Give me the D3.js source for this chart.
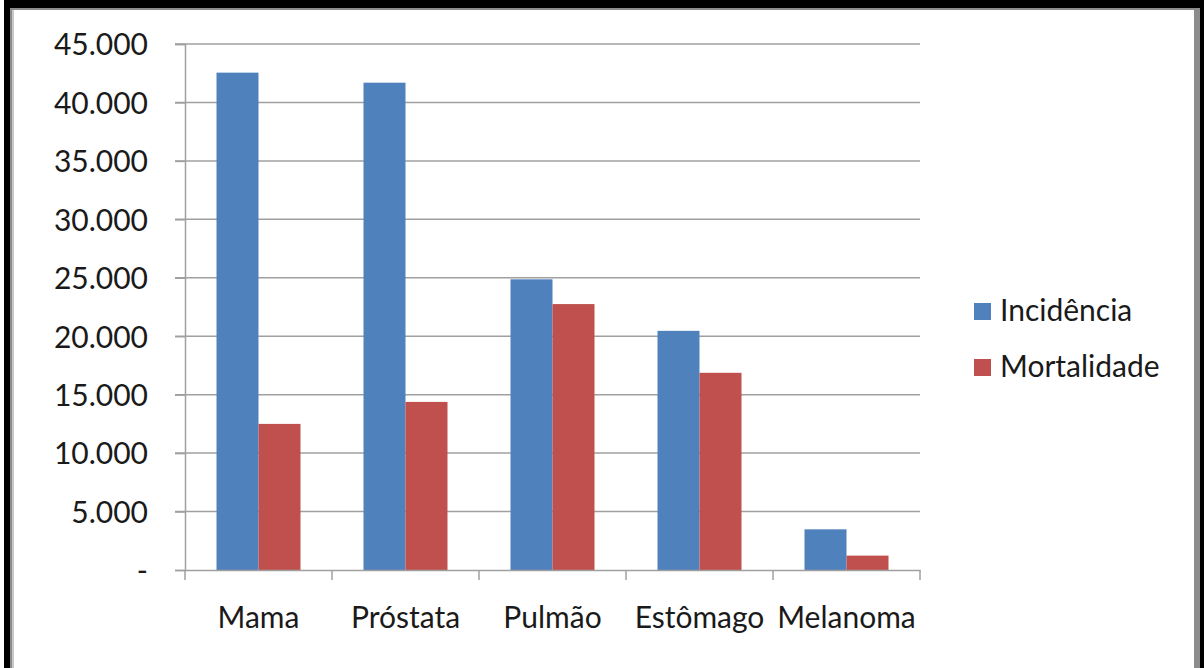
<!DOCTYPE html>
<html>
<head>
<meta charset="utf-8">
<script src="https://cdn.jsdelivr.net/npm/d3@7"></script>
<style>
  html, body { margin: 0; padding: 0; background: #fff; }
  svg { display: block; }
  text { font-family: Lato, "Open Sans", sans-serif; fill: #1a1a1a; }
</style>
</head>
<body>
<script>
// Cancer types and estimated new cases / deaths
const categories = ["Mama", "Próstata", "Pulmão", "Estômago", "Melanoma"];
const incidencia = [42550, 41690, 24870, 20460, 3480];
const mortalidade = [12500, 14380, 22750, 16870, 1230];
const seriesNames = ["Incidência", "Mortalidade"];
const seriesColors = ["#4f81bd", "#c0504d"];
const yTicks = [0, 5000, 10000, 15000, 20000, 25000, 30000, 35000, 40000, 45000];

const W = 1204, H = 668;
const svg = d3.select("body").append("svg").attr("width", W).attr("height", H);

// Frame: black outer band with a grey inner edge
svg.append("rect").attr("x", 4).attr("y", 0).attr("width", W - 4).attr("height", H + 20).attr("fill", "#000");
svg.append("rect").attr("x", 10).attr("y", 8).attr("width", 1190).attr("height", H + 20).attr("fill", "#8c8c8c");
svg.append("rect").attr("x", 12).attr("y", 10).attr("width", 1182).attr("height", H + 20).attr("fill", "#c8c8c8");
svg.append("rect").attr("x", 14).attr("y", 10).attr("width", 1180).attr("height", H + 20).attr("fill", "#fff");

const plot = { left: 185, right: 920, top: 44, bottom: 570 };

const x0 = d3.scaleBand().domain(categories).range([plot.left, plot.right]).paddingInner(0).paddingOuter(0);
const y = d3.scaleLinear().domain([0, 45000]).range([plot.bottom, plot.top]);

// Bars occupy 84 of each 147px category slot, centered
const groupFrac = 84 / 147;
const x1 = d3.scaleBand().domain(seriesNames)
  .range([0, x0.bandwidth() * groupFrac]);
const groupOffset = x0.bandwidth() * (1 - groupFrac) / 2;

// Horizontal gridlines
svg.append("g").selectAll("line").data(yTicks.filter(d => d > 0)).join("line")
  .attr("x1", plot.left - 10).attr("x2", plot.right)
  .attr("y1", d => y(d)).attr("y2", d => y(d))
  .attr("stroke", "#a0a0a0").attr("stroke-width", 1.5);

// Bars
const data = categories.map((c, i) => ({ cat: c, vals: [incidencia[i], mortalidade[i]] }));
const groups = svg.append("g").selectAll("g").data(data).join("g")
  .attr("transform", d => `translate(${x0(d.cat) + groupOffset},0)`);
groups.selectAll("rect").data(d => d.vals.map((v, j) => ({ v, s: seriesNames[j], j }))).join("rect")
  .attr("x", d => x1(d.s))
  .attr("width", x1.bandwidth())
  .attr("y", d => y(d.v))
  .attr("height", d => y(0) - y(d.v))
  .attr("fill", d => seriesColors[d.j]);

// Y axis
const yAxis = d3.axisLeft(y).tickValues(yTicks).tickSize(10).tickPadding(27)
  .tickFormat(d => d === 0 ? "-" : d3.format(",")(d).replace(/,/g, "."));
const gy = svg.append("g").attr("transform", `translate(${plot.left},0)`).call(yAxis);
gy.select(".domain").attr("stroke", "#a0a0a0").attr("stroke-width", 1.5);
gy.selectAll(".tick line").attr("stroke", "#a0a0a0").attr("stroke-width", 1.5);
gy.selectAll(".tick text").attr("font-size", 30).attr("font-family", "Lato").attr("fill", "#1a1a1a").attr("dy", "0.36em");

// X axis
const xAxis = d3.axisBottom(x0).tickSize(0).tickPadding(37);
const gx = svg.append("g").attr("transform", `translate(0,${plot.bottom})`).call(xAxis);
gx.select(".domain").attr("stroke", "#a0a0a0").attr("stroke-width", 1.5);
gx.selectAll(".tick text").attr("font-size", 30).attr("font-family", "Lato").attr("fill", "#1a1a1a");
// Category separator ticks at slot boundaries
const bounds = categories.map(c => x0(c)).concat([plot.right]);
gx.selectAll(".sep").data(bounds).join("line").attr("class", "sep")
  .attr("x1", d => d).attr("x2", d => d).attr("y1", 0).attr("y2", 10)
  .attr("stroke", "#a0a0a0").attr("stroke-width", 1.5);

// Legend
const legend = svg.append("g").selectAll("g").data(seriesNames).join("g")
  .attr("transform", (d, i) => `translate(974,${303 + i * 56})`);
legend.append("rect").attr("width", 17).attr("height", 17).attr("fill", (d, i) => seriesColors[i]);
legend.append("text").attr("x", 26).attr("y", 18).attr("font-size", 30).text(d => d);
</script>
</body>
</html>
